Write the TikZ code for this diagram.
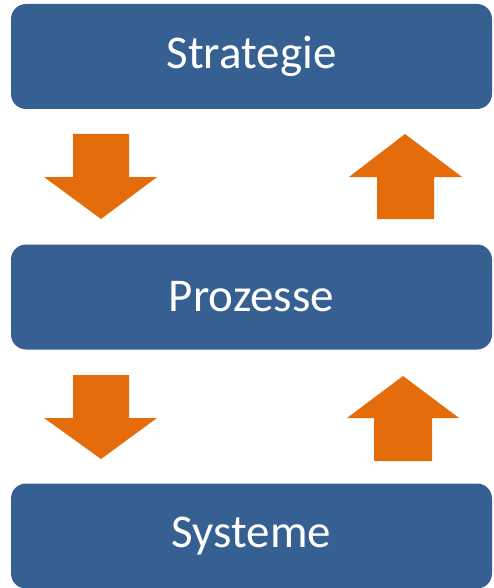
\documentclass[tikz,border=0pt]{standalone}
\usepackage{fontspec}
\setmainfont{Carlito}
\definecolor{boxblue}{RGB}{55,96,146}
\definecolor{arroworange}{RGB}{228,108,10}
\begin{document}
\begin{tikzpicture}[x=1pt,y=-1pt,
  level/.style={fill=boxblue, rounded corners=15pt, minimum width=481pt,
    minimum height=105pt, inner sep=0pt, text=white,
    font=\fontsize{47}{56}\selectfont},
  blockarrow/.style={fill=arroworange, draw=none}]
  \useasboundingbox (0,0) rectangle (493,588);
  % the three levels
  \node[level] (strategie) at (251.5,56.5) {Strategie};
  \node[level] (prozesse)  at (251.5,297) {Prozesse};
  \node[level] (systeme)   at (251.5,536) {Systeme};
  % downward arrows on the left
  \fill[blockarrow] (73,134) -- (129,134) -- (129,177) -- (157,177) -- (101,219)
    -- (44,177) -- (73,177) -- cycle;
  \fill[blockarrow] (73,375) -- (129,375) -- (129,418) -- (157,418) -- (101,459)
    -- (44,418) -- (73,418) -- cycle;
  % upward arrows on the right
  \fill[blockarrow] (377,219) -- (434,219) -- (434,177) -- (462,177) -- (405,134)
    -- (349,177) -- (377,177) -- cycle;
  \fill[blockarrow] (374,461) -- (432,461) -- (432,418) -- (459,418) -- (403,376)
    -- (347,418) -- (374,418) -- cycle;
\end{tikzpicture}
\end{document}
